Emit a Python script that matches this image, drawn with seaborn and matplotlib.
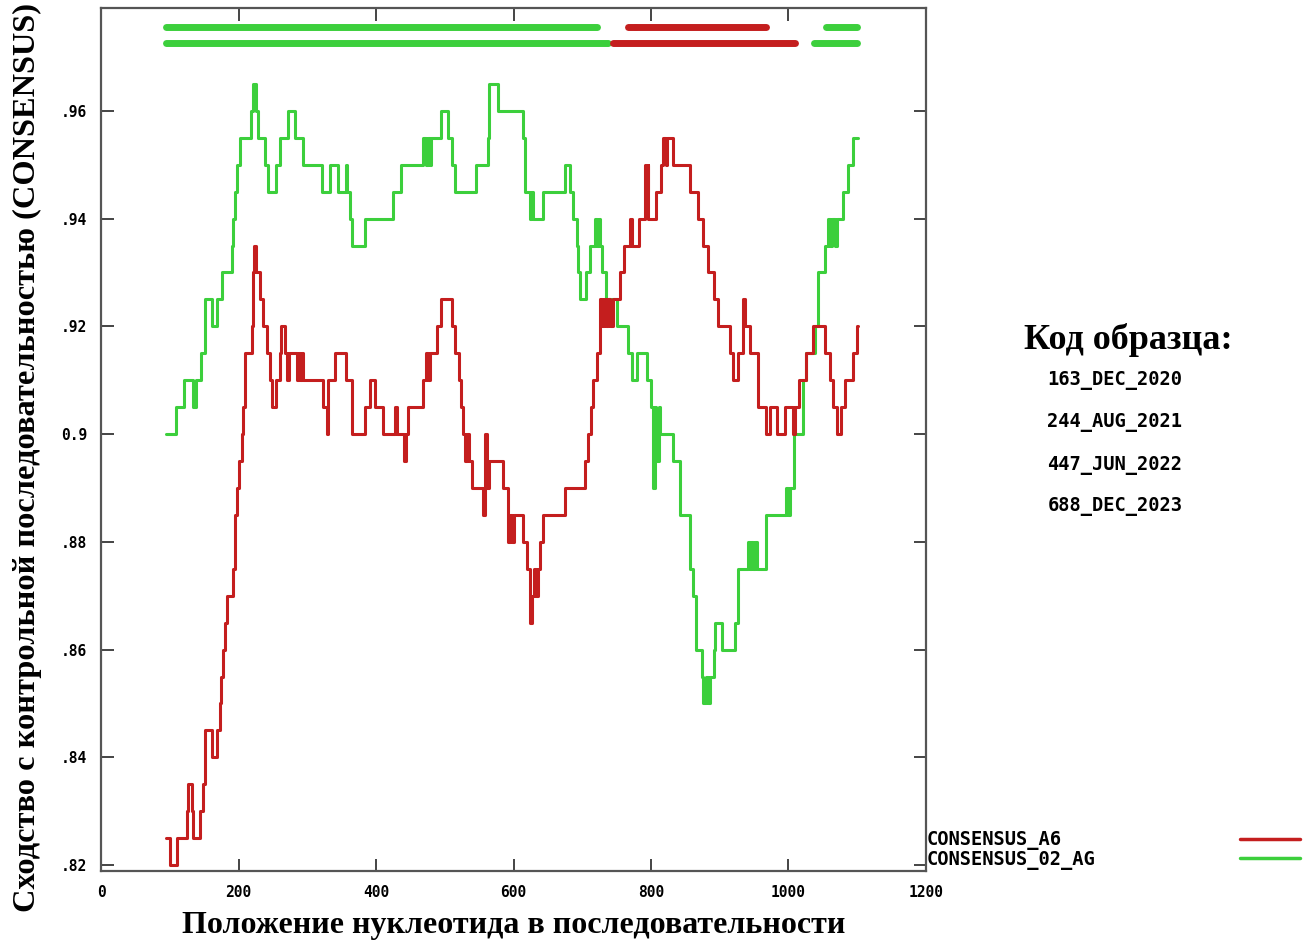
import matplotlib
matplotlib.use("Agg")
import matplotlib.pyplot as plt
import seaborn as sns
import pandas as pd
from matplotlib.lines import Line2D

# CONSENSUS_02_AG (green), step curve: start positions and similarity values
green_x = [95, 109, 120, 134, 138, 146, 151, 161, 168, 176, 190, 192, 195, 198, 202, 218, 221, 226, 229,
           239, 243, 255, 260, 272, 282, 294, 321, 333, 345, 356, 358, 362, 365, 384, 425, 437, 469, 473,
           475, 478, 480, 495, 505, 510, 515, 546, 563, 565, 578, 614, 616, 624, 626, 628, 643, 675, 682,
           687, 692, 694, 697, 706, 711, 718, 722, 724, 726, 728, 735, 750, 767, 772, 779, 794, 800, 803,
           806, 808, 811, 813, 832, 842, 857, 861, 866, 874, 876, 880, 883, 886, 891, 893, 903, 922, 927,
           941, 944, 946, 949, 951, 954, 968, 997, 1000, 1002, 1008, 1021, 1026, 1038, 1043, 1053, 1058,
           1061, 1064, 1067, 1070, 1080, 1087, 1094, 1101]
green_y = [0.900, 0.905, 0.910, 0.905, 0.910, 0.915, 0.925, 0.920, 0.925, 0.930, 0.935, 0.940, 0.945,
           0.950, 0.955, 0.960, 0.965, 0.960, 0.955, 0.950, 0.945, 0.950, 0.955, 0.960, 0.955, 0.950,
           0.945, 0.950, 0.945, 0.950, 0.945, 0.940, 0.935, 0.940, 0.945, 0.950, 0.955, 0.950, 0.955,
           0.950, 0.955, 0.960, 0.955, 0.950, 0.945, 0.950, 0.955, 0.965, 0.960, 0.955, 0.945, 0.940,
           0.945, 0.940, 0.945, 0.950, 0.945, 0.940, 0.935, 0.930, 0.925, 0.930, 0.935, 0.940, 0.935,
           0.940, 0.935, 0.930, 0.925, 0.920, 0.915, 0.910, 0.915, 0.910, 0.905, 0.890, 0.905, 0.895,
           0.905, 0.900, 0.895, 0.885, 0.875, 0.870, 0.860, 0.855, 0.850, 0.855, 0.850, 0.855, 0.860,
           0.865, 0.860, 0.865, 0.875, 0.880, 0.875, 0.880, 0.875, 0.880, 0.875, 0.885, 0.890, 0.885,
           0.890, 0.900, 0.910, 0.915, 0.920, 0.930, 0.935, 0.940, 0.935, 0.940, 0.935, 0.940, 0.945,
           0.950, 0.955, 0.955]

# CONSENSUS_A6 (red)
red_x = [95, 100, 110, 125, 127, 132, 134, 144, 149, 151, 161, 168, 173, 175, 178, 180, 183, 192, 195,
         198, 200, 205, 207, 209, 219, 221, 222, 226, 231, 236, 241, 246, 248, 255, 260, 262, 268, 270,
         273, 285, 288, 290, 292, 294, 323, 328, 330, 340, 357, 365, 384, 391, 399, 410, 428, 430, 440,
         443, 447, 469, 472, 475, 478, 488, 495, 510, 515, 520, 524, 527, 530, 532, 535, 539, 556, 559,
         561, 564, 585, 592, 595, 598, 600, 614, 619, 624, 627, 630, 632, 636, 639, 643, 675, 704, 709,
         713, 716, 721, 726, 729, 731, 734, 737, 740, 744, 755, 760, 769, 772, 782, 791, 793, 795, 796,
         808, 815, 818, 822, 824, 832, 857, 869, 876, 883, 891, 898, 915, 920, 927, 934, 937, 944, 956,
         968, 973, 983, 995, 1007, 1010, 1015, 1025, 1035, 1053, 1060, 1065, 1070, 1077, 1082, 1094,
         1099, 1101]
red_y = [0.825, 0.820, 0.825, 0.830, 0.835, 0.830, 0.825, 0.830, 0.835, 0.845, 0.840, 0.845, 0.850,
         0.855, 0.860, 0.865, 0.870, 0.875, 0.885, 0.890, 0.895, 0.900, 0.905, 0.915, 0.920, 0.930,
         0.935, 0.930, 0.925, 0.920, 0.915, 0.910, 0.905, 0.910, 0.915, 0.920, 0.915, 0.910, 0.915,
         0.910, 0.915, 0.910, 0.915, 0.910, 0.905, 0.900, 0.910, 0.915, 0.910, 0.900, 0.905, 0.910,
         0.905, 0.900, 0.905, 0.900, 0.895, 0.900, 0.905, 0.910, 0.915, 0.910, 0.915, 0.920, 0.925,
         0.920, 0.915, 0.910, 0.905, 0.900, 0.895, 0.900, 0.895, 0.890, 0.885, 0.900, 0.890, 0.895,
         0.890, 0.880, 0.885, 0.880, 0.885, 0.880, 0.875, 0.865, 0.870, 0.875, 0.870, 0.875, 0.880,
         0.885, 0.890, 0.895, 0.900, 0.905, 0.910, 0.915, 0.925, 0.920, 0.925, 0.920, 0.925, 0.920,
         0.925, 0.930, 0.935, 0.940, 0.935, 0.940, 0.950, 0.945, 0.950, 0.940, 0.945, 0.950, 0.955,
         0.950, 0.955, 0.950, 0.945, 0.940, 0.935, 0.930, 0.925, 0.920, 0.915, 0.910, 0.915, 0.925,
         0.920, 0.915, 0.905, 0.900, 0.905, 0.900, 0.905, 0.900, 0.905, 0.910, 0.915, 0.920, 0.915,
         0.910, 0.905, 0.900, 0.905, 0.910, 0.915, 0.920, 0.920]

# bars along the top: which series is closest on each stretch
bar_start = [94, 766, 778, 1055, 94, 745, 1037]
bar_end = [721, 776, 968, 1100, 737, 1010, 1100]
bar_level = [0.9756, 0.9756, 0.9756, 0.9756, 0.9726, 0.9726, 0.9726]
bar_series = ["02_AG", "A6", "A6", "02_AG", "02_AG", "A6", "02_AG"]

x_ticks = [0, 200, 400, 600, 800, 1000, 1200]
y_ticks = [0.82, 0.84, 0.86, 0.88, 0.90, 0.92, 0.94, 0.96]
y_tick_labels = [".82", ".84", ".86", ".88", "0.9", ".92", ".94", ".96"]

sample_codes = ["163_DEC_2020", "244_AUG_2021", "447_JUN_2022", "688_DEC_2023"]
series_names = ["CONSENSUS_A6", "CONSENSUS_02_AG"]
colors = {"A6": "#c41e1e", "02_AG": "#3ccf3c"}

sns.set_style("white")

fig = plt.figure(figsize=(13.14, 9.41), dpi=100)
ax = fig.add_axes([0.0769, 0.0744, 0.6278, 0.9171])

red_df = pd.DataFrame({"pos": red_x, "sim": red_y})
green_df = pd.DataFrame({"pos": green_x, "sim": green_y})
sns.lineplot(data=green_df, x="pos", y="sim", color=colors["02_AG"], linewidth=2.2,
             drawstyle="steps-post", estimator=None, sort=False, ax=ax)
sns.lineplot(data=red_df, x="pos", y="sim", color=colors["A6"], linewidth=2.2,
             drawstyle="steps-post", estimator=None, sort=False, ax=ax)

for s, e, lvl, ser in zip(bar_start, bar_end, bar_level, bar_series):
    ax.plot([s, e], [lvl, lvl], color=colors[ser], linewidth=5, solid_capstyle="round")

ax.set_xlim(0, 1200)
ax.set_ylim(0.8189, 0.9791)
ax.set_xticks(x_ticks)
ax.set_yticks(y_ticks)
ax.set_yticklabels(y_tick_labels)

mono = {"family": "DejaVu Sans Mono", "weight": "bold"}
for lab in ax.get_xticklabels() + ax.get_yticklabels():
    lab.set_fontfamily("DejaVu Sans Mono")
    lab.set_fontweight("bold")
    lab.set_fontsize(10.5)
ax.tick_params(direction="in", length=9, width=1.4, color="#444444", labelcolor="black",
               left=True, bottom=True, top=True, right=True, pad=10)

for sp in ax.spines.values():
    sp.set_color("#555555")
    sp.set_linewidth(1.6)

serif = {"family": "Liberation Serif", "weight": "bold"}
ax.set_xlabel("Положение нуклеотида в последовательности", fontdict=serif, fontsize=23,
              labelpad=8, color="black")
ax.set_ylabel("Сходство с контрольной последовательностью (CONSENSUS)", fontdict=serif,
              fontsize=23.3, color="black")
ax.yaxis.set_label_coords(-0.072, 0.4786)

fig.text(0.859, 0.639, "Код образца:", ha="center", va="center", fontsize=26, color="black", **serif)
code_y = [381, 423, 465, 506]
for code, yy in zip(sample_codes, code_y):
    fig.text(1115 / 1314, 1 - yy / 941, code, ha="center", va="center", fontsize=13.5,
             color="black", **mono)

leg_y = [841, 860]
for name, yy, ser in zip(series_names, leg_y, ["A6", "02_AG"]):
    fig.text(927 / 1314, 1 - yy / 941, name, ha="left", va="center", fontsize=13.5,
             color="black", **mono)
    fig.add_artist(Line2D([1240 / 1314, 1300 / 1314], [1 - (yy - 2) / 941] * 2,
                          color=colors[ser], linewidth=2.5, transform=fig.transFigure))

fig.savefig("out.png", dpi=100)
